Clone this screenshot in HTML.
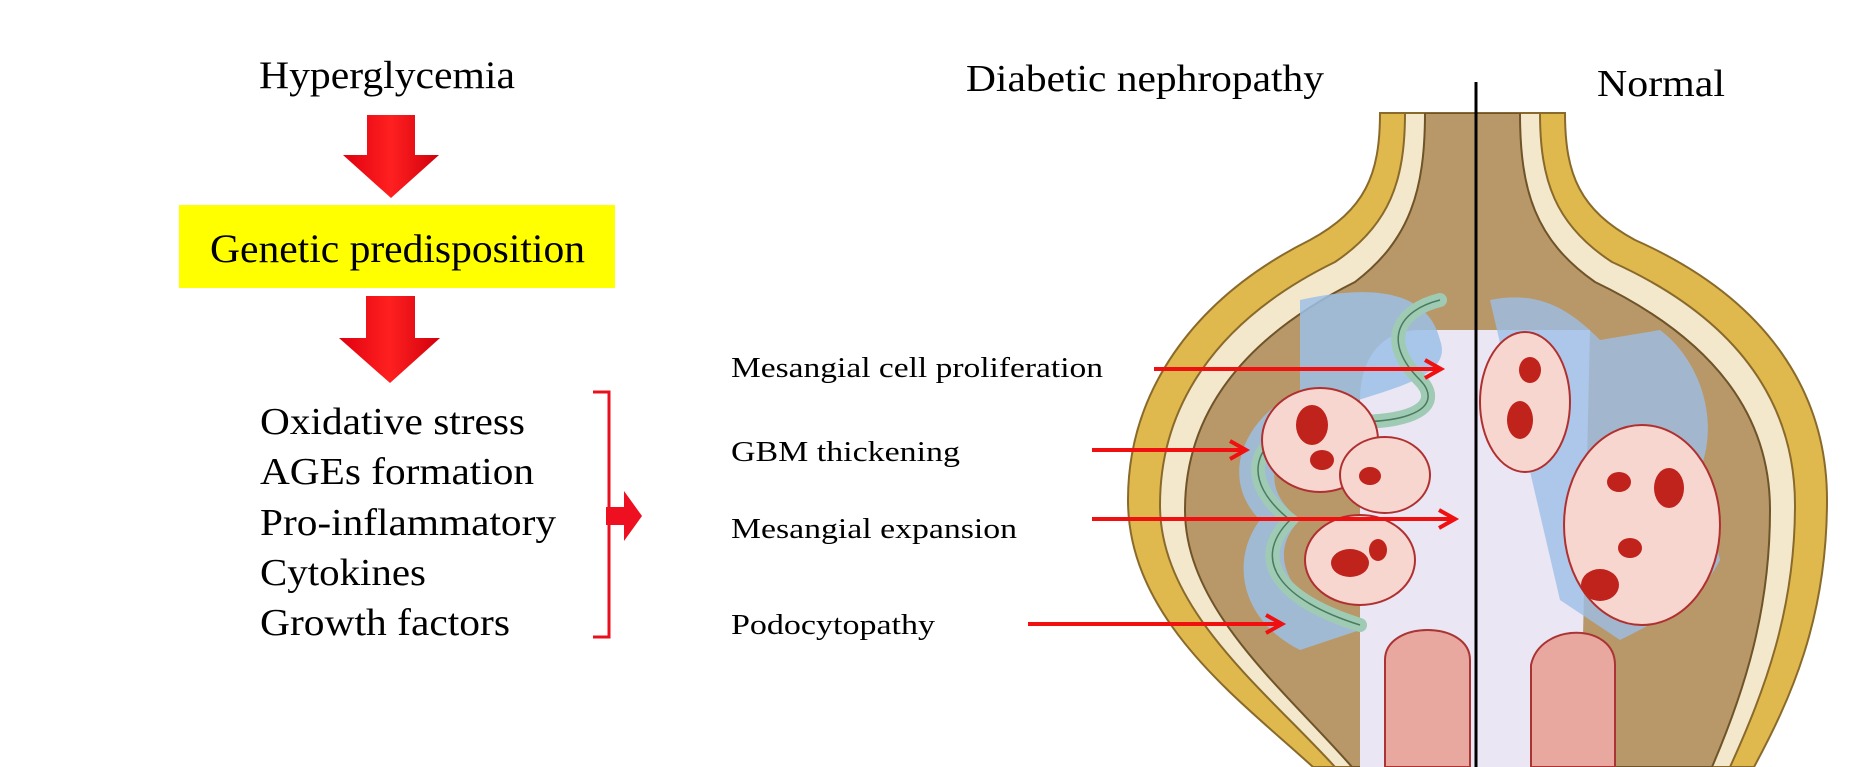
<!DOCTYPE html>
<html><head><meta charset="utf-8"><style>
html,body{margin:0;padding:0;background:#fff;}
svg{display:block;}
text{font-family:"Liberation Serif",serif;fill:#000;}
</style></head><body>
<svg width="1876" height="767" viewBox="0 0 1876 767">
<defs>
<linearGradient id="ag" x1="0" x2="1"><stop offset="0" stop-color="#e00010"/><stop offset="0.5" stop-color="#ff2020"/><stop offset="1" stop-color="#d0000c"/></linearGradient>
<clipPath id="bulbclip"><path d="M1380,113 L1565,113 C1565,175 1580,210 1635,240 C1770,300 1827,395 1827,500 C1827,620 1790,700 1754,767 L1313,767 C1240,700 1128,620 1128,500 C1128,395 1190,300 1310,240 C1365,210 1380,175 1380,113 Z"/></clipPath>
</defs>

<!-- left flow -->
<text x="259" y="88" font-size="39" textLength="256" lengthAdjust="spacingAndGlyphs">Hyperglycemia</text>
<path d="M367,115 L415,115 L415,155 L439,155 L391,198 L343,155 L367,155 Z" fill="url(#ag)"/>
<rect x="179" y="205" width="436" height="83" fill="#ffff00"/>
<text x="210" y="262" font-size="40" textLength="375" lengthAdjust="spacingAndGlyphs">Genetic predisposition</text>
<path d="M366,296 L415,296 L415,338 L440,338 L390,383 L339,338 L366,338 Z" fill="url(#ag)"/>
<g font-size="38">
<text x="260" y="434" textLength="265" lengthAdjust="spacingAndGlyphs">Oxidative stress</text>
<text x="260" y="484" textLength="274" lengthAdjust="spacingAndGlyphs">AGEs formation</text>
<text x="260" y="535" textLength="296" lengthAdjust="spacingAndGlyphs">Pro-inflammatory</text>
<text x="260" y="585" textLength="166" lengthAdjust="spacingAndGlyphs">Cytokines</text>
<text x="260" y="635" textLength="250" lengthAdjust="spacingAndGlyphs">Growth factors</text>
</g>
<path d="M593,392 L609,392 L609,637 L593,637" fill="none" stroke="#e8101c" stroke-width="3"/>
<path d="M606,507 L624,507 L624,491 L642,516 L624,541 L624,525 L606,525 Z" fill="#ee1020"/>

<!-- labels -->
<g font-size="28">
<text x="731" y="377" textLength="372" lengthAdjust="spacingAndGlyphs">Mesangial cell proliferation</text>
<text x="731" y="461" textLength="229" lengthAdjust="spacingAndGlyphs">GBM thickening</text>
<text x="731" y="538" textLength="286" lengthAdjust="spacingAndGlyphs">Mesangial expansion</text>
<text x="731" y="634" textLength="204" lengthAdjust="spacingAndGlyphs">Podocytopathy</text>
</g>
<text x="966" y="91" font-size="38" textLength="358" lengthAdjust="spacingAndGlyphs">Diabetic nephropathy</text>
<text x="1597" y="96" font-size="38" textLength="128" lengthAdjust="spacingAndGlyphs">Normal</text>

<!-- glomerulus -->
<g>
<path d="M1380,113 L1565,113 C1565,175 1580,210 1635,240 C1770,300 1827,395 1827,500 C1827,620 1790,700 1754,767 L1313,767 C1240,700 1128,620 1128,500 C1128,395 1190,300 1310,240 C1365,210 1380,175 1380,113 Z" fill="#e0b94e" stroke="#8a6a2a" stroke-width="2"/>
<g clip-path="url(#bulbclip)">
<path d="M1405,113 L1540,113 C1540,180 1555,225 1612,262 C1745,322 1795,410 1795,505 C1795,610 1765,690 1730,767 L1335,767 C1265,690 1160,610 1160,505 C1160,410 1212,322 1335,262 C1390,225 1405,180 1405,113 Z" fill="#f3e7cc" stroke="#8a6a2a" stroke-width="2"/>
<path d="M1425,113 L1520,113 C1520,190 1535,240 1595,282 C1720,342 1770,420 1770,510 C1770,610 1745,690 1712,767 L1352,767 C1285,690 1185,610 1185,510 C1185,420 1235,342 1355,282 C1410,240 1425,190 1425,113 Z" fill="#b89868" stroke="#6e5428" stroke-width="2"/>
<path d="M1420,330 C1380,330 1360,360 1360,400 L1360,767 L1580,767 L1590,330 Z" fill="#eae6f4"/>
<path d="M1300,300 C1390,280 1430,300 1440,340 C1455,380 1380,390 1330,410 C1280,440 1250,480 1300,520 C1260,560 1300,610 1360,630 L1300,650 C1240,620 1230,560 1260,520 C1220,480 1240,420 1300,390 Z" fill="#9cbfe6" opacity="0.85"/>
<path d="M1440,300 C1400,310 1380,340 1420,380 C1440,400 1430,430 1310,420 C1250,440 1240,480 1290,520 C1250,560 1280,600 1360,625" fill="none" stroke="#9fcbb4" stroke-width="14" stroke-linecap="round"/>
<path d="M1440,300 C1400,310 1380,340 1420,380 C1440,400 1430,430 1310,420 C1250,440 1240,480 1290,520 C1250,560 1280,600 1360,625" fill="none" stroke="#4b7a5e" stroke-width="1.5"/>
<path d="M1490,300 C1540,290 1570,310 1600,340 L1660,330 C1700,360 1720,420 1700,470 L1720,560 C1700,600 1660,620 1620,640 L1560,600 Z" fill="#9cbfe6" opacity="0.8"/>
<g stroke="#b03030" stroke-width="2">
<ellipse cx="1320" cy="440" rx="58" ry="52" fill="#f6d6cf"/>
<ellipse cx="1385" cy="475" rx="45" ry="38" fill="#f6d6cf"/>
<ellipse cx="1360" cy="560" rx="55" ry="45" fill="#f6d6cf"/>
<ellipse cx="1525" cy="402" rx="45" ry="70" fill="#f6d6cf"/>
<ellipse cx="1642" cy="525" rx="78" ry="100" fill="#f6d6cf"/>
</g>
<g fill="#c0221c">
<ellipse cx="1312" cy="425" rx="16" ry="20"/><ellipse cx="1322" cy="460" rx="12" ry="10"/>
<ellipse cx="1370" cy="476" rx="11" ry="9"/><ellipse cx="1350" cy="563" rx="19" ry="14"/>
<ellipse cx="1378" cy="550" rx="9" ry="11"/><ellipse cx="1530" cy="370" rx="11" ry="13"/>
<ellipse cx="1520" cy="420" rx="13" ry="19"/><ellipse cx="1619" cy="482" rx="12" ry="10"/>
<ellipse cx="1669" cy="488" rx="15" ry="20"/><ellipse cx="1630" cy="548" rx="12" ry="10"/>
<ellipse cx="1600" cy="585" rx="19" ry="16"/>
</g>
<path d="M1385,767 L1385,660 C1385,620 1470,620 1470,660 L1470,767 Z" fill="#e8a8a0" stroke="#a33" stroke-width="2"/>
<path d="M1531,767 L1531,665 C1540,622 1615,622 1615,665 L1615,767 Z" fill="#e8a8a0" stroke="#a33" stroke-width="2"/>
</g>
</g>

<line x1="1476" y1="82" x2="1476" y2="767" stroke="#000" stroke-width="3"/>

<!-- pointer arrows -->
<g stroke="#f01010" stroke-width="4" fill="none">
<path d="M1154,369 L1441,369 M1425,360 L1441,369 L1425,378"/>
<path d="M1092,450 L1246,450 M1230,441 L1246,450 L1230,459"/>
<path d="M1092,519 L1455,519 M1439,510 L1455,519 L1439,528"/>
<path d="M1028,624 L1282,624 M1266,615 L1282,624 L1266,633"/>
</g>
</svg>
</body></html>
